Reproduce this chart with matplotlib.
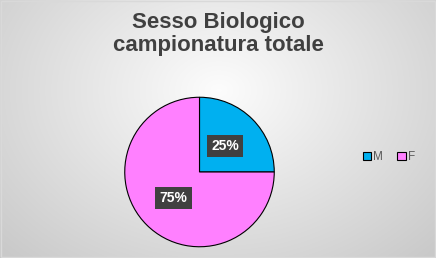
import numpy as np
import matplotlib
matplotlib.use("Agg")
import matplotlib.pyplot as plt
from matplotlib.patches import Rectangle

categories = ["M", "F"]
values = [25, 75]
colors = ["#00B0F0", "#FF80FF"]
title = "Sesso Biologico\ncampionatura totale"

W, H = 436, 258
fig = plt.figure(figsize=(W / 100, H / 100), dpi=100)

# background radial gradient
bg = fig.add_axes([0, 0, 1, 1], zorder=0)
yy, xx = np.mgrid[0:H, 0:W]
cx, cy = 218, 90
r = np.sqrt(((xx - cx) / 300.0) ** 2 + ((yy - cy) / 230.0) ** 2)
r = np.clip(r, 0, 1)
val = 0.99 - 0.20 * r
img = np.dstack([val, val, val])
bg.imshow(img, extent=[0, W, H, 0], aspect="auto", interpolation="bilinear")
bg.set_xlim(0, W)
bg.set_ylim(H, 0)
bg.axis("off")
bg.add_patch(Rectangle((0.5, 0.5), W - 1.5, H - 1.5, fill=False, ec="#d9d9d9", lw=1))

fig.text(0.5, 1 - 34 / H, title, ha="center", va="center",
         fontdict=dict(family="Liberation Sans", weight="bold", size=16),
         color="#404040", linespacing=1.1, zorder=5)

pcx, pcy, pr = 199.5, 172, 75.5
ax = fig.add_axes([(pcx - pr) / W, (H - pcy - pr) / H, 2 * pr / W, 2 * pr / H], zorder=2)
wedges, texts, autotexts = ax.pie(
    values, colors=colors, startangle=90, counterclock=False,
    autopct="%d%%", pctdistance=0.49,
    wedgeprops=dict(edgecolor="black", linewidth=0.8),
    textprops=dict(color="white", fontsize=10, fontweight="bold", family="Liberation Sans"))
for t in autotexts:
    t.set_bbox(dict(boxstyle="square,pad=0.3", fc="#404040", ec="none"))
ax.set_xlim(-1.01, 1.01)
ax.set_ylim(-1.01, 1.01)
ax.set_aspect("equal")
ax.axis("off")

leg = fig.legend(wedges, categories, loc="center", bbox_to_anchor=(389 / W, 1 - 157 / H),
                 ncol=2, frameon=False, handlelength=0.7, handleheight=0.7,
                 handletextpad=0.2, columnspacing=1.2, prop=dict(family="Liberation Sans", size=8.5))
for t in leg.get_texts():
    t.set_color("#595959")

fig.savefig("out.png", dpi=100)
